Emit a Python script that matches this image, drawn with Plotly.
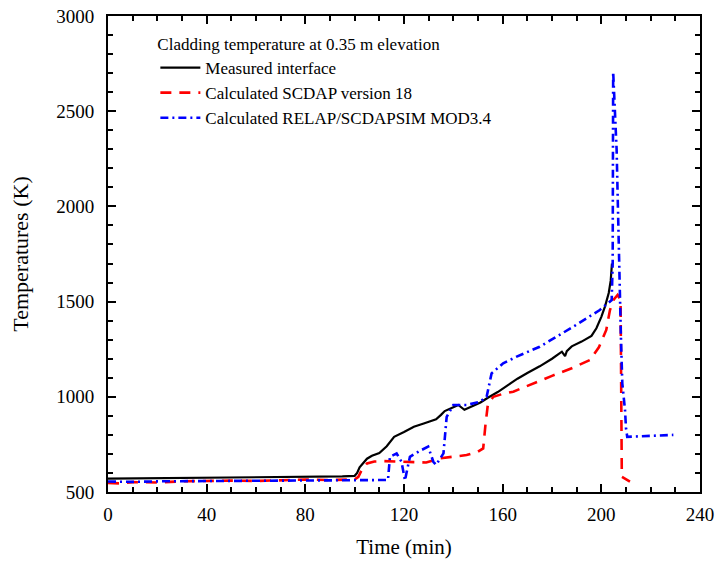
import plotly.graph_objects as go

# Measured interface
t_meas = [0, 20, 40, 60, 80, 95, 100, 101, 102, 103.5, 105, 107, 110, 113, 116, 120, 124, 128,
          133, 135, 136.5, 140, 142, 144.5, 146, 148, 151, 154, 158, 162, 166, 170, 175, 180,
          184, 185.3, 186, 188, 192, 196, 198, 200, 201.5, 203, 203.8, 204.3]
y_meas = [570, 572, 575, 577, 580, 582, 585, 600, 630, 655, 675, 690, 705, 740, 790, 815, 843, 860,
          882, 905, 925, 945, 957, 932, 940, 950, 970, 995, 1025, 1060, 1095, 1125, 1160, 1200,
          1237, 1213, 1240, 1265, 1290, 1320, 1360, 1420, 1475, 1545, 1610, 1700]

# Calculated SCDAP version 18
t_scdap = [0, 5, 10, 20, 30, 40, 50, 60, 70, 80, 90, 100, 101.5, 103, 105, 108, 112, 120, 129,
           134.6, 140, 145.4, 150, 152.1, 153, 154, 156.2, 160, 164.3, 172.4, 180, 188, 195.4,
           199, 202, 203.5, 205, 206.6, 207.8, 208.3, 211.6]
y_scdap = [548, 545, 552, 550, 556, 558, 560, 558, 562, 565, 563, 566, 580, 620, 650, 660, 662,
           660, 655, 677, 685, 694, 712, 729, 850, 960, 1000, 1015, 1027, 1071, 1110, 1150, 1193,
           1260, 1351, 1456, 1510, 1535, 1510, 580, 555]

# Calculated RELAP/SCDAPSIM MOD3.4
t_relap = [0, 10, 20, 40, 60, 80, 100, 110, 113.5, 114.3, 117, 119, 120.4, 121, 122.4, 127, 129.8,
           131.9, 133, 136, 137.3, 140, 145.4, 150.8, 153.5, 155.5, 160.2, 165.7, 172.4, 175, 188.6,
           199.4, 204.2, 204.6, 204.8, 206.2, 206.6, 207.1, 207.5, 207.9, 208.5, 209.6, 210, 210.5,
           218.4, 229.2]
y_relap = [555, 553, 556, 557, 558, 560, 560, 562, 563, 685, 703, 659, 560, 600, 685, 720, 738,
           659, 642, 703, 895, 957, 957, 974, 1000, 1123, 1176, 1211, 1246, 1263, 1368,
           1456, 1508, 1700, 2707, 2296, 2069, 1841, 1561, 1333, 1071, 931, 835, 790,
           794, 800]

x_ticks = [0, 40, 80, 120, 160, 200, 240]
y_ticks = [500, 1000, 1500, 2000, 2500, 3000]

FONT = "Liberation Serif"

fig = go.Figure()
fig.add_trace(go.Scatter(x=t_meas, y=y_meas, mode="lines", name="Measured interface",
                         line=dict(color="black", width=2.2)))
fig.add_trace(go.Scatter(x=t_scdap, y=y_scdap, mode="lines", name="Calculated SCDAP version 18",
                         line=dict(color="#ff0000", width=2.6, dash="11px,8px")))
fig.add_trace(go.Scatter(x=t_relap, y=y_relap, mode="lines", name="Calculated RELAP/SCDAPSIM MOD3.4",
                         line=dict(color="#0000ff", width=2.6, dash="8px,4px,2px,4px")))

axis_common = dict(
    showline=True, linecolor="black", linewidth=2, mirror="ticks",
    ticks="inside", ticklen=8, tickwidth=1.5, tickcolor="black",
    showgrid=False, zeroline=False, automargin=False,
    tickfont=dict(family=FONT, size=19, color="black"),
)

fig.update_xaxes(range=[0, 240], tickvals=x_ticks, ticktext=[str(v) for v in x_ticks],
                 minor=dict(dtick=10, tick0=0, ticks="inside", ticklen=5, tickwidth=1.5, tickcolor="black"),
                 title=dict(text="Time (min)", font=dict(family=FONT, size=21, color="black"), standoff=16),
                 ticklabelstandoff=4,
                 **axis_common)
fig.update_yaxes(range=[500, 3000], tickvals=y_ticks, ticktext=[str(v) for v in y_ticks],
                 minor=dict(dtick=100, tick0=500, ticks="inside", ticklen=5, tickwidth=1.5, tickcolor="black"),
                 title=dict(text="Temperatures (K)", font=dict(family=FONT, size=22, color="black"), standoff=22),
                 ticklabelstandoff=8,
                 **axis_common)

fig.update_layout(
    width=717, height=562,
    margin=dict(l=108, r=17, t=16, b=70),
    paper_bgcolor="white", plot_bgcolor="white",
    font=dict(family=FONT, color="black"),
    legend=dict(
        x=0.08, y=0.975, xanchor="left", yanchor="top",
        bgcolor="rgba(0,0,0,0)",
        font=dict(family=FONT, size=17, color="black"),
        title=dict(text="Cladding temperature at 0.35 m elevation",
                   font=dict(family=FONT, size=17, color="black")),
        tracegroupgap=0, itemwidth=40,
    ),
)

fig.write_html("out.html")
